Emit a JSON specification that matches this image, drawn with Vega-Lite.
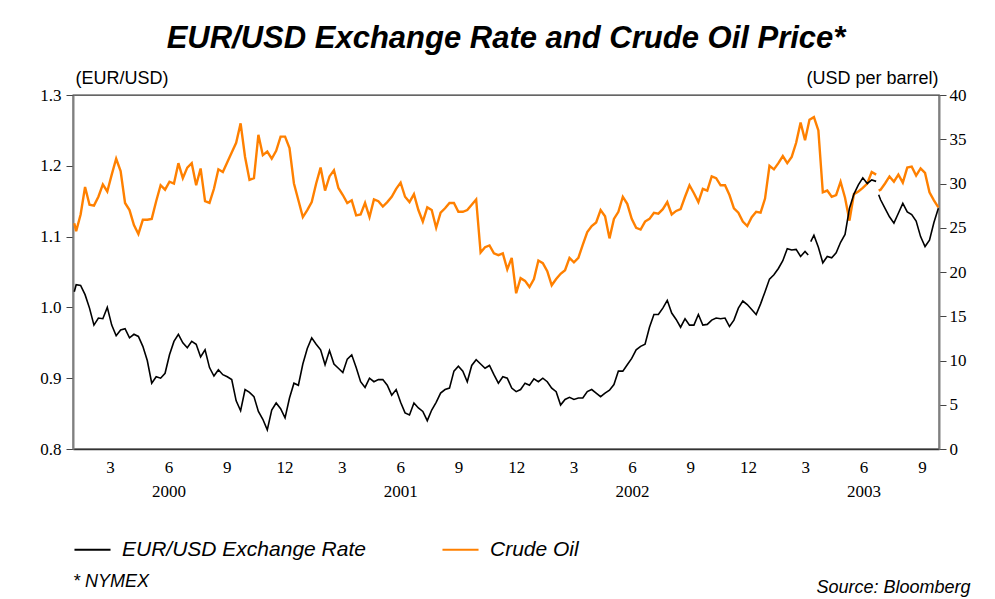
{
  "$schema": "https://vega.github.io/schema/vega-lite/v6.json",
  "width": 866,
  "height": 354,
  "autosize": {"type": "none"},
  "padding": {"left": 73, "top": 95, "right": 56, "bottom": 150},
  "background": "white",
  "title": {
    "text": "EUR/USD Exchange Rate and Crude Oil Price*",
    "font": "Liberation Sans",
    "fontSize": 31,
    "fontWeight": "bold",
    "fontStyle": "italic",
    "color": "black",
    "anchor": "middle",
    "baseline": "alphabetic",
    "offset": 24,
    "dy": 34
  },
  "config": {
    "view": {"stroke": "#333333", "strokeWidth": 1.3},
    "axis": {"grid": false}
  },
  "datasets": {
    "oil": [
      {"d": "1999-12-31", "v": 25.5},
      {"d": "2000-01-03", "v": 24.6}, {"d": "2000-01-10", "v": 26.5}, {"d": "2000-01-17", "v": 29.6}, {"d": "2000-01-24", "v": 27.6}, {"d": "2000-01-31", "v": 27.5},
      {"d": "2000-02-07", "v": 28.5}, {"d": "2000-02-14", "v": 29.9}, {"d": "2000-02-21", "v": 29.1}, {"d": "2000-02-28", "v": 31.0},
      {"d": "2000-03-06", "v": 32.8}, {"d": "2000-03-13", "v": 31.4}, {"d": "2000-03-20", "v": 27.8}, {"d": "2000-03-27", "v": 27.0},
      {"d": "2000-04-03", "v": 25.3}, {"d": "2000-04-10", "v": 24.3}, {"d": "2000-04-17", "v": 25.9}, {"d": "2000-04-24", "v": 25.9},
      {"d": "2000-05-01", "v": 26.0}, {"d": "2000-05-08", "v": 28.0}, {"d": "2000-05-15", "v": 29.8}, {"d": "2000-05-22", "v": 29.3}, {"d": "2000-05-29", "v": 30.2},
      {"d": "2000-06-05", "v": 30.0}, {"d": "2000-06-12", "v": 32.3}, {"d": "2000-06-19", "v": 30.6}, {"d": "2000-06-26", "v": 31.8},
      {"d": "2000-07-03", "v": 32.3}, {"d": "2000-07-10", "v": 29.8}, {"d": "2000-07-17", "v": 31.7}, {"d": "2000-07-24", "v": 28.0}, {"d": "2000-07-31", "v": 27.8},
      {"d": "2000-08-07", "v": 29.4}, {"d": "2000-08-14", "v": 31.6}, {"d": "2000-08-21", "v": 31.3}, {"d": "2000-08-28", "v": 32.4},
      {"d": "2000-09-04", "v": 33.5}, {"d": "2000-09-11", "v": 34.6}, {"d": "2000-09-18", "v": 36.8}, {"d": "2000-09-25", "v": 33.0},
      {"d": "2000-10-02", "v": 30.4}, {"d": "2000-10-09", "v": 30.6}, {"d": "2000-10-16", "v": 35.5}, {"d": "2000-10-23", "v": 33.2}, {"d": "2000-10-30", "v": 33.6},
      {"d": "2000-11-06", "v": 32.8}, {"d": "2000-11-13", "v": 33.7}, {"d": "2000-11-20", "v": 35.3}, {"d": "2000-11-27", "v": 35.3},
      {"d": "2000-12-04", "v": 34.0}, {"d": "2000-12-11", "v": 30.0}, {"d": "2000-12-18", "v": 28.1}, {"d": "2000-12-25", "v": 26.2},
      {"d": "2001-01-01", "v": 27.0}, {"d": "2001-01-08", "v": 27.9}, {"d": "2001-01-15", "v": 30.0}, {"d": "2001-01-22", "v": 31.8}, {"d": "2001-01-29", "v": 29.2},
      {"d": "2001-02-05", "v": 30.8}, {"d": "2001-02-12", "v": 31.5}, {"d": "2001-02-19", "v": 29.5}, {"d": "2001-02-26", "v": 28.7},
      {"d": "2001-03-05", "v": 27.8}, {"d": "2001-03-12", "v": 28.1}, {"d": "2001-03-19", "v": 26.4}, {"d": "2001-03-26", "v": 26.5},
      {"d": "2001-04-02", "v": 27.8}, {"d": "2001-04-09", "v": 26.2}, {"d": "2001-04-16", "v": 28.2}, {"d": "2001-04-23", "v": 28.0}, {"d": "2001-04-30", "v": 27.4},
      {"d": "2001-05-07", "v": 27.9}, {"d": "2001-05-14", "v": 28.5}, {"d": "2001-05-21", "v": 29.4}, {"d": "2001-05-28", "v": 30.1},
      {"d": "2001-06-04", "v": 28.5}, {"d": "2001-06-11", "v": 27.9}, {"d": "2001-06-18", "v": 28.8}, {"d": "2001-06-25", "v": 27.0},
      {"d": "2001-07-02", "v": 25.7}, {"d": "2001-07-09", "v": 27.3}, {"d": "2001-07-16", "v": 27.0}, {"d": "2001-07-23", "v": 25.0}, {"d": "2001-07-30", "v": 26.7},
      {"d": "2001-08-06", "v": 27.2}, {"d": "2001-08-13", "v": 27.8}, {"d": "2001-08-20", "v": 27.8}, {"d": "2001-08-27", "v": 26.8},
      {"d": "2001-09-03", "v": 26.8}, {"d": "2001-09-10", "v": 27.0}, {"d": "2001-09-17", "v": 27.6}, {"d": "2001-09-24", "v": 28.2},
      {"d": "2001-10-01", "v": 22.2}, {"d": "2001-10-08", "v": 22.8}, {"d": "2001-10-15", "v": 23.0}, {"d": "2001-10-22", "v": 22.1}, {"d": "2001-10-29", "v": 21.9},
      {"d": "2001-11-05", "v": 22.1}, {"d": "2001-11-12", "v": 20.3}, {"d": "2001-11-19", "v": 21.6}, {"d": "2001-11-26", "v": 17.6},
      {"d": "2001-12-03", "v": 19.3}, {"d": "2001-12-10", "v": 19.0}, {"d": "2001-12-17", "v": 18.3}, {"d": "2001-12-24", "v": 19.2}, {"d": "2001-12-31", "v": 21.3},
      {"d": "2002-01-07", "v": 21.0}, {"d": "2002-01-14", "v": 20.1}, {"d": "2002-01-21", "v": 18.5}, {"d": "2002-01-28", "v": 19.2},
      {"d": "2002-02-04", "v": 19.8}, {"d": "2002-02-11", "v": 20.2}, {"d": "2002-02-18", "v": 21.6}, {"d": "2002-02-25", "v": 21.1},
      {"d": "2002-03-04", "v": 21.6}, {"d": "2002-03-11", "v": 23.1}, {"d": "2002-03-18", "v": 24.5}, {"d": "2002-03-25", "v": 25.2},
      {"d": "2002-04-01", "v": 25.6}, {"d": "2002-04-08", "v": 27.0}, {"d": "2002-04-15", "v": 26.3}, {"d": "2002-04-22", "v": 23.8}, {"d": "2002-04-29", "v": 26.0},
      {"d": "2002-05-06", "v": 26.8}, {"d": "2002-05-13", "v": 28.5}, {"d": "2002-05-20", "v": 27.7}, {"d": "2002-05-27", "v": 26.0},
      {"d": "2002-06-03", "v": 25.0}, {"d": "2002-06-10", "v": 24.8}, {"d": "2002-06-17", "v": 25.7}, {"d": "2002-06-24", "v": 26.0},
      {"d": "2002-07-01", "v": 26.7}, {"d": "2002-07-08", "v": 26.6}, {"d": "2002-07-15", "v": 27.1}, {"d": "2002-07-22", "v": 27.9}, {"d": "2002-07-29", "v": 26.5},
      {"d": "2002-08-05", "v": 26.9}, {"d": "2002-08-12", "v": 27.1}, {"d": "2002-08-19", "v": 28.5}, {"d": "2002-08-26", "v": 29.8},
      {"d": "2002-09-02", "v": 28.9}, {"d": "2002-09-09", "v": 27.9}, {"d": "2002-09-16", "v": 29.4}, {"d": "2002-09-23", "v": 29.2}, {"d": "2002-09-30", "v": 30.8},
      {"d": "2002-10-07", "v": 30.6}, {"d": "2002-10-14", "v": 29.8}, {"d": "2002-10-21", "v": 29.8}, {"d": "2002-10-28", "v": 28.7},
      {"d": "2002-11-04", "v": 27.2}, {"d": "2002-11-11", "v": 26.7}, {"d": "2002-11-18", "v": 25.7}, {"d": "2002-11-25", "v": 25.2},
      {"d": "2002-12-02", "v": 26.2}, {"d": "2002-12-09", "v": 26.8}, {"d": "2002-12-16", "v": 26.7}, {"d": "2002-12-23", "v": 28.3}, {"d": "2002-12-30", "v": 32.0},
      {"d": "2003-01-06", "v": 31.6}, {"d": "2003-01-13", "v": 32.3}, {"d": "2003-01-20", "v": 33.1}, {"d": "2003-01-27", "v": 32.3},
      {"d": "2003-02-03", "v": 33.0}, {"d": "2003-02-10", "v": 34.6}, {"d": "2003-02-17", "v": 36.9}, {"d": "2003-02-24", "v": 34.9},
      {"d": "2003-03-03", "v": 37.2}, {"d": "2003-03-10", "v": 37.5}, {"d": "2003-03-17", "v": 36.0}, {"d": "2003-03-24", "v": 29.0}, {"d": "2003-03-31", "v": 29.2},
      {"d": "2003-04-07", "v": 28.5}, {"d": "2003-04-14", "v": 28.7}, {"d": "2003-04-21", "v": 30.2}, {"d": "2003-04-28", "v": 28.4},
      {"d": "2003-05-05", "v": 25.8}, {"d": "2003-05-12", "v": 28.8}, {"d": "2003-05-19", "v": 29.1}, {"d": "2003-05-26", "v": 29.5},
      {"d": "2003-06-02", "v": 30.0}, {"d": "2003-06-09", "v": 31.3}, {"d": "2003-06-16", "v": 31.0}, {"d": "2003-06-18", "v": null}, {"d": "2003-06-20", "v": 29.2}, {"d": "2003-06-23", "v": 29.3}, {"d": "2003-06-30", "v": 30.0},
      {"d": "2003-07-07", "v": 30.8}, {"d": "2003-07-14", "v": 30.2}, {"d": "2003-07-21", "v": 31.0}, {"d": "2003-07-28", "v": 30.1},
      {"d": "2003-08-04", "v": 31.8}, {"d": "2003-08-11", "v": 31.9}, {"d": "2003-08-18", "v": 30.9}, {"d": "2003-08-25", "v": 31.7},
      {"d": "2003-09-01", "v": 31.2}, {"d": "2003-09-08", "v": 29.0}, {"d": "2003-09-15", "v": 28.1}, {"d": "2003-09-22", "v": 27.3}
    ],
    "eur": [
      {"d": "1999-12-31", "v": 1.022},
      {"d": "2000-01-03", "v": 1.032}, {"d": "2000-01-10", "v": 1.031}, {"d": "2000-01-17", "v": 1.018}, {"d": "2000-01-24", "v": 0.999}, {"d": "2000-01-31", "v": 0.975},
      {"d": "2000-02-07", "v": 0.985}, {"d": "2000-02-14", "v": 0.984}, {"d": "2000-02-21", "v": 1.000}, {"d": "2000-02-28", "v": 0.975},
      {"d": "2000-03-06", "v": 0.960}, {"d": "2000-03-13", "v": 0.968}, {"d": "2000-03-20", "v": 0.970}, {"d": "2000-03-27", "v": 0.957},
      {"d": "2000-04-03", "v": 0.962}, {"d": "2000-04-10", "v": 0.959}, {"d": "2000-04-17", "v": 0.945}, {"d": "2000-04-24", "v": 0.925},
      {"d": "2000-05-01", "v": 0.893}, {"d": "2000-05-08", "v": 0.902}, {"d": "2000-05-15", "v": 0.900}, {"d": "2000-05-22", "v": 0.907}, {"d": "2000-05-29", "v": 0.933},
      {"d": "2000-06-05", "v": 0.952}, {"d": "2000-06-12", "v": 0.962}, {"d": "2000-06-19", "v": 0.950}, {"d": "2000-06-26", "v": 0.943},
      {"d": "2000-07-03", "v": 0.952}, {"d": "2000-07-10", "v": 0.948}, {"d": "2000-07-17", "v": 0.930}, {"d": "2000-07-24", "v": 0.940}, {"d": "2000-07-31", "v": 0.915},
      {"d": "2000-08-07", "v": 0.903}, {"d": "2000-08-14", "v": 0.912}, {"d": "2000-08-21", "v": 0.905}, {"d": "2000-08-28", "v": 0.902},
      {"d": "2000-09-04", "v": 0.898}, {"d": "2000-09-11", "v": 0.868}, {"d": "2000-09-18", "v": 0.854}, {"d": "2000-09-25", "v": 0.884},
      {"d": "2000-10-02", "v": 0.880}, {"d": "2000-10-09", "v": 0.874}, {"d": "2000-10-16", "v": 0.853}, {"d": "2000-10-23", "v": 0.842}, {"d": "2000-10-30", "v": 0.827},
      {"d": "2000-11-06", "v": 0.855}, {"d": "2000-11-13", "v": 0.865}, {"d": "2000-11-20", "v": 0.857}, {"d": "2000-11-27", "v": 0.844},
      {"d": "2000-12-04", "v": 0.872}, {"d": "2000-12-11", "v": 0.893}, {"d": "2000-12-18", "v": 0.890}, {"d": "2000-12-25", "v": 0.920},
      {"d": "2001-01-01", "v": 0.942}, {"d": "2001-01-08", "v": 0.957}, {"d": "2001-01-15", "v": 0.948}, {"d": "2001-01-22", "v": 0.940}, {"d": "2001-01-29", "v": 0.919},
      {"d": "2001-02-05", "v": 0.939}, {"d": "2001-02-12", "v": 0.920}, {"d": "2001-02-19", "v": 0.914}, {"d": "2001-02-26", "v": 0.908},
      {"d": "2001-03-05", "v": 0.927}, {"d": "2001-03-12", "v": 0.933}, {"d": "2001-03-19", "v": 0.915}, {"d": "2001-03-26", "v": 0.895},
      {"d": "2001-04-02", "v": 0.887}, {"d": "2001-04-09", "v": 0.900}, {"d": "2001-04-16", "v": 0.895}, {"d": "2001-04-23", "v": 0.898}, {"d": "2001-04-30", "v": 0.898},
      {"d": "2001-05-07", "v": 0.890}, {"d": "2001-05-14", "v": 0.876}, {"d": "2001-05-21", "v": 0.884}, {"d": "2001-05-28", "v": 0.866},
      {"d": "2001-06-04", "v": 0.851}, {"d": "2001-06-11", "v": 0.848}, {"d": "2001-06-18", "v": 0.865}, {"d": "2001-06-25", "v": 0.858},
      {"d": "2001-07-02", "v": 0.853}, {"d": "2001-07-09", "v": 0.840}, {"d": "2001-07-16", "v": 0.855}, {"d": "2001-07-23", "v": 0.866}, {"d": "2001-07-30", "v": 0.879},
      {"d": "2001-08-06", "v": 0.884}, {"d": "2001-08-13", "v": 0.886}, {"d": "2001-08-20", "v": 0.910}, {"d": "2001-08-27", "v": 0.917},
      {"d": "2001-09-03", "v": 0.910}, {"d": "2001-09-10", "v": 0.895}, {"d": "2001-09-17", "v": 0.918}, {"d": "2001-09-24", "v": 0.926},
      {"d": "2001-10-01", "v": 0.920}, {"d": "2001-10-08", "v": 0.914}, {"d": "2001-10-15", "v": 0.918}, {"d": "2001-10-22", "v": 0.905}, {"d": "2001-10-29", "v": 0.893},
      {"d": "2001-11-05", "v": 0.902}, {"d": "2001-11-12", "v": 0.900}, {"d": "2001-11-19", "v": 0.886}, {"d": "2001-11-26", "v": 0.881},
      {"d": "2001-12-03", "v": 0.884}, {"d": "2001-12-10", "v": 0.893}, {"d": "2001-12-17", "v": 0.890}, {"d": "2001-12-24", "v": 0.899}, {"d": "2001-12-31", "v": 0.895},
      {"d": "2002-01-07", "v": 0.900}, {"d": "2002-01-14", "v": 0.895}, {"d": "2002-01-21", "v": 0.886}, {"d": "2002-01-28", "v": 0.881},
      {"d": "2002-02-04", "v": 0.862}, {"d": "2002-02-11", "v": 0.870}, {"d": "2002-02-18", "v": 0.873}, {"d": "2002-02-25", "v": 0.870},
      {"d": "2002-03-04", "v": 0.872}, {"d": "2002-03-11", "v": 0.872}, {"d": "2002-03-18", "v": 0.881}, {"d": "2002-03-25", "v": 0.884},
      {"d": "2002-04-01", "v": 0.879}, {"d": "2002-04-08", "v": 0.874}, {"d": "2002-04-15", "v": 0.879}, {"d": "2002-04-22", "v": 0.883}, {"d": "2002-04-29", "v": 0.891},
      {"d": "2002-05-06", "v": 0.910}, {"d": "2002-05-13", "v": 0.910}, {"d": "2002-05-20", "v": 0.919}, {"d": "2002-05-27", "v": 0.928},
      {"d": "2002-06-03", "v": 0.940}, {"d": "2002-06-10", "v": 0.945}, {"d": "2002-06-17", "v": 0.948}, {"d": "2002-06-24", "v": 0.972},
      {"d": "2002-07-01", "v": 0.990}, {"d": "2002-07-08", "v": 0.990}, {"d": "2002-07-15", "v": 0.999}, {"d": "2002-07-22", "v": 1.010}, {"d": "2002-07-29", "v": 0.992},
      {"d": "2002-08-05", "v": 0.983}, {"d": "2002-08-12", "v": 0.972}, {"d": "2002-08-19", "v": 0.984}, {"d": "2002-08-26", "v": 0.975},
      {"d": "2002-09-02", "v": 0.975}, {"d": "2002-09-09", "v": 0.990}, {"d": "2002-09-16", "v": 0.975}, {"d": "2002-09-23", "v": 0.976}, {"d": "2002-09-30", "v": 0.982},
      {"d": "2002-10-07", "v": 0.985}, {"d": "2002-10-14", "v": 0.984}, {"d": "2002-10-21", "v": 0.985}, {"d": "2002-10-28", "v": 0.973},
      {"d": "2002-11-04", "v": 0.982}, {"d": "2002-11-11", "v": 0.999}, {"d": "2002-11-18", "v": 1.009}, {"d": "2002-11-25", "v": 1.004},
      {"d": "2002-12-02", "v": 0.997}, {"d": "2002-12-09", "v": 0.990}, {"d": "2002-12-16", "v": 1.005}, {"d": "2002-12-23", "v": 1.022}, {"d": "2002-12-30", "v": 1.040},
      {"d": "2003-01-06", "v": 1.046}, {"d": "2003-01-13", "v": 1.055}, {"d": "2003-01-20", "v": 1.066}, {"d": "2003-01-27", "v": 1.083},
      {"d": "2003-02-03", "v": 1.081}, {"d": "2003-02-10", "v": 1.082}, {"d": "2003-02-17", "v": 1.072}, {"d": "2003-02-24", "v": 1.079},
      {"d": "2003-03-01", "v": 1.074}, {"d": "2003-03-03", "v": null}, {"d": "2003-03-05", "v": 1.093}, {"d": "2003-03-10", "v": 1.102}, {"d": "2003-03-17", "v": 1.085}, {"d": "2003-03-24", "v": 1.063}, {"d": "2003-03-31", "v": 1.072},
      {"d": "2003-04-07", "v": 1.070}, {"d": "2003-04-14", "v": 1.077}, {"d": "2003-04-21", "v": 1.092}, {"d": "2003-04-28", "v": 1.103},
      {"d": "2003-05-05", "v": 1.140}, {"d": "2003-05-12", "v": 1.160}, {"d": "2003-05-19", "v": 1.173}, {"d": "2003-05-26", "v": 1.183},
      {"d": "2003-06-02", "v": 1.175}, {"d": "2003-06-09", "v": 1.180}, {"d": "2003-06-16", "v": 1.178}, {"d": "2003-06-18", "v": null}, {"d": "2003-06-20", "v": 1.159}, {"d": "2003-06-23", "v": 1.152}, {"d": "2003-06-30", "v": 1.140},
      {"d": "2003-07-07", "v": 1.128}, {"d": "2003-07-14", "v": 1.119}, {"d": "2003-07-21", "v": 1.133}, {"d": "2003-07-28", "v": 1.147},
      {"d": "2003-08-04", "v": 1.135}, {"d": "2003-08-11", "v": 1.131}, {"d": "2003-08-18", "v": 1.122}, {"d": "2003-08-25", "v": 1.100},
      {"d": "2003-09-01", "v": 1.086}, {"d": "2003-09-08", "v": 1.095}, {"d": "2003-09-15", "v": 1.120}, {"d": "2003-09-22", "v": 1.140}
    ]
  },
  "encoding": {
    "x": {
      "field": "d",
      "type": "temporal",
      "scale": {"domain": [{"year": 1999, "month": 12, "date": 29}, {"year": 2003, "month": 9, "date": 23}]},
      "axis": {
        "values": [
          {"year": 2000, "month": 3, "date": 1}, {"year": 2000, "month": 6, "date": 1}, {"year": 2000, "month": 9, "date": 1}, {"year": 2000, "month": 12, "date": 1},
          {"year": 2001, "month": 3, "date": 1}, {"year": 2001, "month": 6, "date": 1}, {"year": 2001, "month": 9, "date": 1}, {"year": 2001, "month": 12, "date": 1},
          {"year": 2002, "month": 3, "date": 1}, {"year": 2002, "month": 6, "date": 1}, {"year": 2002, "month": 9, "date": 1}, {"year": 2002, "month": 12, "date": 1},
          {"year": 2003, "month": 3, "date": 1}, {"year": 2003, "month": 6, "date": 1}, {"year": 2003, "month": 9, "date": 1}
        ],
        "labelExpr": "month(datum.value) == 5 ? ['' + (month(datum.value) + 1), '' + year(datum.value)] : '' + (month(datum.value) + 1)",
        "ticks": false,
        "domain": true,
        "domainColor": "#333333",
        "domainWidth": 1.3,
        "grid": false,
        "labelFont": "Liberation Serif",
        "labelFontSize": 17,
        "labelColor": "black",
        "labelPadding": 10,
        "labelLineHeight": 24,
        "labelOffset": -3,
        "labelFlush": false,
        "labelOverlap": false,
        "title": "Source: Bloomberg",
        "titleFont": "Liberation Sans",
        "titleFontStyle": "italic",
        "titleFontWeight": "normal",
        "titleFontSize": 18,
        "titleColor": "black",
        "titleAlign": "right",
        "titleAnchor": "end",
        "titleBaseline": "alphabetic",
        "titleX": 897,
        "titleY": 143
      }
    }
  },
  "layer": [
    {
      "data": {"name": "oil"},
      "mark": {"type": "line", "strokeWidth": 2.4, "invalid": "break-paths-show-domains"},
      "encoding": {
        "y": {
          "field": "v",
          "type": "quantitative",
          "scale": {"domain": [0, 40], "nice": false, "zero": false},
          "axis": {
            "orient": "right",
            "values": [0, 5, 10, 15, 20, 25, 30, 35, 40],
            "format": "d",
            "grid": false,
            "domainColor": "#808080",
            "domainWidth": 2,
            "tickColor": "#444444",
            "tickSize": 7,
            "labelFont": "Liberation Serif",
            "labelFontSize": 17,
            "labelColor": "black",
            "labelPadding": 3,
            "labelFlush": false,
            "title": "(USD per barrel)",
            "titleAngle": 0,
            "titleAlign": "right",
            "titleBaseline": "alphabetic",
            "titleX": -1,
            "titleY": -12,
            "titleFont": "Liberation Sans",
            "titleFontSize": 18,
            "titleFontWeight": "normal",
            "titleColor": "black"
          }
        },
        "color": {
          "datum": "Crude Oil",
          "type": "nominal",
          "scale": {"domain": ["EUR/USD Exchange Rate", "Crude Oil"], "range": ["#000000", "#ff8000"]},
          "legend": {
            "orient": "none",
            "legendX": 0,
            "legendY": 435,
            "direction": "horizontal",
            "symbolType": "stroke",
            "symbolSize": 1300,
            "symbolStrokeWidth": 2,
            "labelFont": "Liberation Sans",
            "labelFontStyle": "italic",
            "labelFontSize": 21,
            "labelColor": "black",
            "labelOffset": 10,
            "labelLimit": 400,
            "columnPadding": 72,
            "title": "* NYMEX",
            "titleOrient": "bottom",
            "titleAnchor": "start",
            "titleFont": "Liberation Sans",
            "titleFontStyle": "italic",
            "titleFontWeight": "normal",
            "titleFontSize": 18,
            "titleColor": "black",
            "titlePadding": 13
          }
        }
      }
    },
    {
      "data": {"name": "eur"},
      "mark": {"type": "line", "strokeWidth": 1.6, "invalid": "break-paths-show-domains"},
      "encoding": {
        "y": {
          "field": "v",
          "type": "quantitative",
          "scale": {"domain": [0.8, 1.3], "nice": false, "zero": false},
          "axis": {
            "orient": "left",
            "values": [0.8, 0.9, 1.0, 1.1, 1.2, 1.3],
            "format": ".1f",
            "grid": false,
            "domainColor": "#808080",
            "domainWidth": 2,
            "tickColor": "#444444",
            "tickSize": 7,
            "labelFont": "Liberation Serif",
            "labelFontSize": 17,
            "labelColor": "black",
            "labelPadding": 5,
            "labelFlush": false,
            "title": "(EUR/USD)",
            "titleAngle": 0,
            "titleAlign": "left",
            "titleBaseline": "alphabetic",
            "titleX": 2,
            "titleY": -12,
            "titleFont": "Liberation Sans",
            "titleFontSize": 18,
            "titleFontWeight": "normal",
            "titleColor": "black"
          }
        },
        "color": {"datum": "EUR/USD Exchange Rate", "type": "nominal"}
      }
    }
  ],
  "resolve": {"scale": {"y": "independent"}}
}
